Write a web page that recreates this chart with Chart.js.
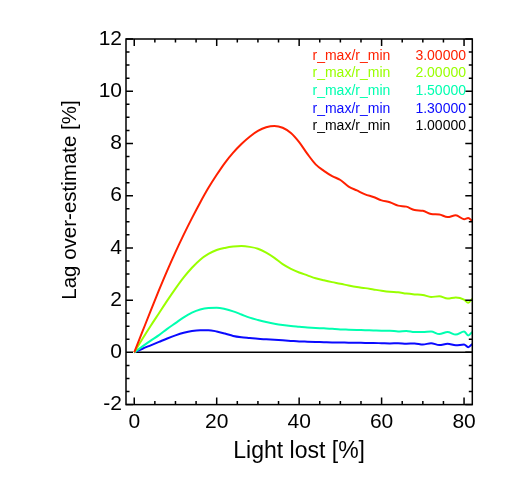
<!DOCTYPE html>
<html><head><meta charset="utf-8">
<script src="https://cdn.jsdelivr.net/npm/chart.js@4"></script>
<style>html,body{margin:0;padding:0;background:#fff}#wrap{width:510px;height:485px}</style>
</head><body><div id="wrap"><canvas id="c" width="510" height="485"></canvas></div>
<script>
// ---- data ----
const lightLost = [0,2,4,6,8,10,12,14,16,18,20,22,24,26,28,30,32,34,36,38,40,42,44,46,48,50,52,54,56,58,60,62,64,66,68,70,72,74,76,78,80,81,82];
const lagRatio300 = [0,0.8,1.6,2.38,3.13,3.84,4.51,5.14,5.74,6.3,6.8,7.26,7.65,7.98,8.26,8.48,8.62,8.67,8.6,8.4,8.05,7.6,7.2,6.95,6.75,6.6,6.35,6.2,6.05,5.95,5.82,5.75,5.62,5.58,5.45,5.42,5.3,5.28,5.18,5.25,5.1,5.15,5.02];
const lagRatio200 = [0,0.52,1.02,1.5,1.98,2.44,2.87,3.24,3.55,3.77,3.92,4.0,4.05,4.07,4.04,3.97,3.82,3.62,3.38,3.2,3.06,2.95,2.84,2.76,2.69,2.63,2.56,2.5,2.46,2.41,2.36,2.32,2.3,2.25,2.22,2.2,2.12,2.15,2.06,2.1,2.02,1.9,2.05];
const lagRatio150 = [0,0.23,0.45,0.66,0.9,1.12,1.34,1.52,1.64,1.7,1.71,1.66,1.57,1.45,1.33,1.24,1.16,1.1,1.05,1.01,0.98,0.95,0.93,0.92,0.9,0.88,0.87,0.86,0.85,0.84,0.83,0.83,0.8,0.82,0.78,0.78,0.8,0.7,0.78,0.68,0.8,0.65,0.78];
const lagRatio130 = [0,0.14,0.27,0.4,0.53,0.65,0.75,0.82,0.85,0.85,0.8,0.72,0.63,0.58,0.55,0.52,0.5,0.48,0.46,0.44,0.42,0.41,0.4,0.39,0.38,0.38,0.37,0.37,0.36,0.36,0.35,0.34,0.35,0.33,0.34,0.3,0.35,0.28,0.33,0.27,0.3,0.2,0.32];
const lagRatio100 = [0,0,0,0,0,0,0,0,0,0,0,0,0,0,0,0,0,0,0,0,0,0,0,0,0,0,0,0,0,0,0,0,0,0,0,0,0,0,0,0,0,0,0];
const ratios = [3.0, 2.0, 1.5, 1.3, 1.0];
const seriesColors = ['#ff2000', '#99ff00', '#00ffb0', '#0a0aff', '#000000'];
const legendLabel = 'r_max/r_min';
const xTicks = [0, 20, 40, 60, 80];
const yTicks = [-2, 0, 2, 4, 6, 8, 10, 12];
const xMinorStep = 5;
const yMinorStep = 0.5;
const xTitle = 'Light lost [%]';
const yTitle = 'Lag over-estimate [%]';

const allSeries = [lagRatio300, lagRatio200, lagRatio150, lagRatio130, lagRatio100];
const FONT = 'Liberation Sans, Arial, Helvetica, sans-serif';

const datasets = allSeries.map((s, k) => ({
  label: legendLabel + ' ' + ratios[k].toFixed(5),
  data: lightLost.map((x, i) => ({x: x, y: s[i]})),
  borderColor: seriesColors[k],
  borderWidth: k === 4 ? 1.5 : 2,
  pointRadius: 0,
  fill: false,
  cubicInterpolationMode: 'monotone'
}));

const idlFrame = {
  id: 'idlFrame',
  afterDatasetsDraw(chart) {
    const ctx = chart.ctx, a = chart.chartArea, xs = chart.scales.x, ys = chart.scales.y;
    ctx.save();
    ctx.strokeStyle = '#000';
    ctx.lineWidth = 1.5;
    ctx.strokeRect(a.left, a.top, a.right - a.left, a.bottom - a.top);
    ctx.beginPath();
    for (let v = xTicks[0]; v <= xTicks[xTicks.length - 1] + 1e-9; v += xMinorStep) {
      const major = xTicks.some(t => Math.abs(t - v) < 1e-9);
      const len = major ? 7 : 3.5;
      const px = xs.getPixelForValue(v);
      ctx.moveTo(px, a.bottom); ctx.lineTo(px, a.bottom - len);
      ctx.moveTo(px, a.top); ctx.lineTo(px, a.top + len);
    }
    for (let v = yTicks[0]; v <= yTicks[yTicks.length - 1] + 1e-9; v += yMinorStep) {
      const major = yTicks.some(t => Math.abs(t - v) < 1e-9);
      const len = major ? 7 : 3.5;
      const py = ys.getPixelForValue(v);
      ctx.moveTo(a.left, py); ctx.lineTo(a.left + len, py);
      ctx.moveTo(a.right, py); ctx.lineTo(a.right - len, py);
    }
    ctx.stroke();

    // legend
    ctx.font = '14px ' + FONT;
    ctx.textBaseline = 'middle';
    ratios.forEach((r, k) => {
      const yy = 56 + k * 17.6;
      ctx.fillStyle = seriesColors[k];
      ctx.textAlign = 'left';
      ctx.fillText(legendLabel, 312.5, yy);
      ctx.textAlign = 'right';
      ctx.fillText(r.toFixed(5), 466, yy);
    });

    // axis titles
    ctx.fillStyle = '#000';
    ctx.textAlign = 'center';
    ctx.font = '23px ' + FONT;
    ctx.fillText(xTitle, (a.left + a.right) / 2, 452);
    ctx.save();
    ctx.translate(70, 200);
    ctx.rotate(-Math.PI / 2);
    ctx.font = '20.5px ' + FONT;
    ctx.fillText(yTitle, 0, 0);
    ctx.restore();
    ctx.restore();
  }
};

new Chart(document.getElementById('c'), {
  type: 'line',
  data: {datasets: datasets},
  options: {
    responsive: false,
    animation: false,
    layout: {padding: {left: 66, top: 39, right: 37.7, bottom: 40.4}},
    plugins: {legend: {display: false}, tooltip: {enabled: false}},
    scales: {
      x: {
        type: 'linear', min: -2, max: 82,
        afterBuildTicks: s => { s.ticks = xTicks.map(v => ({value: v})); },
        afterFit: s => { s.height = 40; },
        grid: {display: false, drawTicks: false},
        border: {display: false},
        ticks: {font: {family: FONT, size: 21}, color: '#000', padding: 5, maxRotation: 0, autoSkip: false}
      },
      y: {
        type: 'linear', min: -2, max: 12,
        afterBuildTicks: s => { s.ticks = yTicks.map(v => ({value: v})); },
        afterFit: s => { s.width = 60; },
        grid: {display: false, drawTicks: false},
        border: {display: false},
        ticks: {font: {family: FONT, size: 21}, color: '#000', padding: 4, autoSkip: false}
      }
    }
  },
  plugins: [idlFrame]
});
</script>
</body></html>
